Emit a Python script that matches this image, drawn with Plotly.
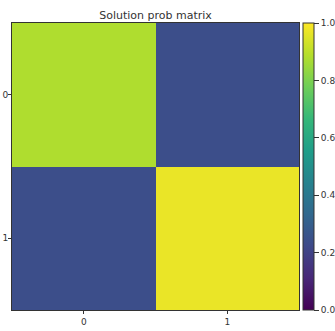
import plotly.graph_objects as go

# Solution probability matrix (rows/cols indexed 0..1)
row_labels = [0, 1]
col_labels = [0, 1]
prob_values = [
    [0.88, 0.24],
    [0.24, 0.97],
]
cbar_ticks = [0.0, 0.2, 0.4, 0.6, 0.8, 1.0]

W, H = 335, 331
L, R, T, B = 12, 36, 23, 21
plot_w = W - L - R

fig = go.Figure(
    go.Heatmap(
        z=prob_values,
        x=col_labels,
        y=row_labels,
        colorscale="Viridis",
        zmin=0,
        zmax=1,
        xgap=0,
        ygap=0,
        colorbar=dict(
            thickness=11,
            len=1,
            lenmode="fraction",
            x=(303 - L) / plot_w,
            xanchor="left",
            xref="paper",
            y=0.5,
            yanchor="middle",
            outlinewidth=1,
            outlinecolor="#333333",
            tickvals=cbar_ticks,
            ticktext=[f"{v:.1f}" for v in cbar_ticks],
            ticks="outside",
            ticklen=5,
            tickwidth=1,
            tickcolor="#333333",
            tickfont=dict(size=9, color="#333333", family="DejaVu Sans"),
            xpad=0,
            ypad=0,
        ),
        hoverinfo="skip",
    )
)

fig.update_layout(
    width=W,
    height=H,
    margin=dict(l=L, r=R, t=T, b=B, autoexpand=False),
    paper_bgcolor="white",
    plot_bgcolor="white",
    title=dict(
        text="Solution prob matrix",
        x=(L + plot_w / 2) / W,
        xanchor="center",
        y=1 - 15 / H,
        yanchor="middle",
        font=dict(size=11, color="#333333", family="DejaVu Sans"),
    ),
    font=dict(family="DejaVu Sans", size=9, color="#333333"),
)

fig.update_xaxes(
    tickvals=col_labels,
    ticktext=[str(c) for c in col_labels],
    range=[-0.5, 1.5],
    automargin=False,
    showgrid=False,
    zeroline=False,
    showline=True,
    linecolor="#333333",
    linewidth=1,
    mirror=True,
    ticks="outside",
    ticklen=3,
    tickcolor="#333333",
    tickfont=dict(size=9, color="#333333"),
)
fig.update_yaxes(
    tickvals=row_labels,
    ticktext=[str(r) for r in row_labels],
    range=[1.5, -0.5],
    automargin=False,
    showgrid=False,
    zeroline=False,
    showline=True,
    linecolor="#333333",
    linewidth=1,
    mirror=True,
    ticks="outside",
    ticklen=3,
    tickcolor="#333333",
    tickfont=dict(size=9, color="#333333"),
    ticklabelstandoff=-2,
)

fig.write_html("out.html")
